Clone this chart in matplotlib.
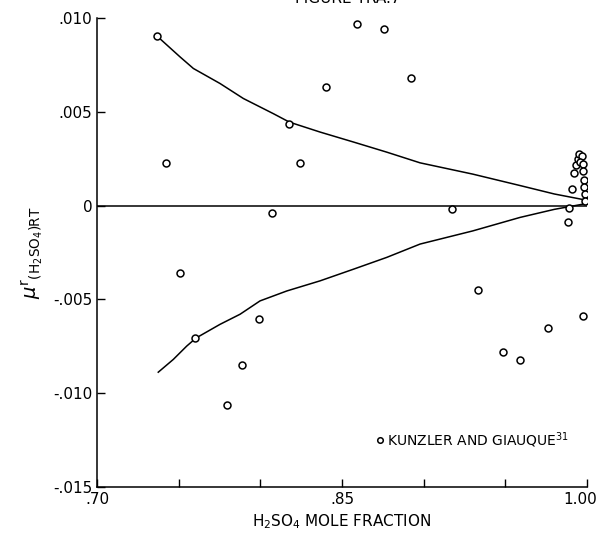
import matplotlib
matplotlib.use("Agg")
import matplotlib.pyplot as plt
from matplotlib.transforms import ScaledTranslation

# ================= DATA =================
# Kunzler and Giauque points (mole fraction, mu^r/RT)
pts_x = [0.7365, 0.7425, 0.7508, 0.7599, 0.7798, 0.7886, 0.7990, 0.8070,
         0.8178, 0.8240, 0.8402, 0.8592, 0.8757, 0.8920, 0.9174, 0.9333,
         0.9486, 0.9590, 0.9764, 0.9978, 0.9882, 0.9892, 0.9911, 0.9921,
         0.9933, 0.9947, 0.9953, 0.9968, 0.9958, 0.9974, 0.9978, 0.9982,
         0.9982, 0.9988, 0.9988]
pts_y = [0.00904, 0.00228, -0.00357, -0.00706, -0.01064, -0.00849, -0.00603,
         -0.00037, 0.00433, 0.00228, 0.00631, 0.00968, 0.00943, 0.00679,
         -0.00020, -0.00450, -0.00780, -0.00824, -0.00654, -0.00588,
         -0.00089, -0.00012, 0.00089, 0.00173, 0.00214, 0.00250, 0.00273,
         0.00267, 0.00232, 0.00223, 0.00187, 0.00134, 0.00098, 0.00062,
         0.00027]

# upper and lower envelope curves
upper_x = [0.7367, 0.7508, 0.7590, 0.7753, 0.7896, 0.8080, 0.8178, 0.8366,
           0.8570, 0.8774, 0.8978, 0.9300, 0.9590, 0.9800, 0.9990]
upper_y = [0.00904, 0.00793, 0.00731, 0.00651, 0.00571, 0.00490, 0.00445,
           0.00392, 0.00339, 0.00285, 0.00228, 0.00168, 0.00107, 0.00062,
           0.00030]
lower_x = [0.7375, 0.7467, 0.7549, 0.7606, 0.7753, 0.7876, 0.7998, 0.8162,
           0.8366, 0.8570, 0.8774, 0.8978, 0.9300, 0.9590, 0.9800, 0.9990]
lower_y = [-0.00888, -0.00820, -0.00749, -0.00706, -0.00633, -0.00579,
           -0.00508, -0.00455, -0.00401, -0.00339, -0.00276, -0.00205,
           -0.00135, -0.00063, -0.00020, 0.00010]

xticks = [0.70, 0.75, 0.80, 0.85, 0.90, 0.95, 1.00]
xticklabels = [".70", "", "", ".85", "", "", "1.00"]
yticks = [0.010, 0.005, 0.0, -0.005, -0.010, -0.015]
yticklabels = [".010", ".005", "0", "-.005", "-.010", "-.015"]

# ================= PLOT =================
fig = plt.figure(figsize=(6, 5.33), dpi=100)
ax = fig.add_axes([0.1617, 0.0863, 0.8166, 0.8799])

ax.plot([0.70, 1.00], [0, 0], color="black", lw=1.1)
ax.plot(upper_x, upper_y, color="black", lw=1.1)
ax.plot(lower_x, lower_y, color="black", lw=1.1)
ax.plot(pts_x, pts_y, linestyle="none", marker="o", markersize=5,
        markerfacecolor="white", markeredgecolor="black", markeredgewidth=1.1)

# legend entry
ax.plot([0.8733], [-0.01251], linestyle="none", marker="o", markersize=4,
        markerfacecolor="white", markeredgecolor="black", markeredgewidth=1.1)
ax.text(0.8775, -0.01251, r"KUNZLER AND GIAUQUE$^{31}$", fontsize=10,
        va="center", ha="left")

ax.set_xlim(0.70, 1.00)
ax.set_ylim(-0.015, 0.010)
ax.set_xticks(xticks)
ax.set_xticklabels(xticklabels, fontsize=11)
ax.set_yticks(yticks)
ax.set_yticklabels(yticklabels, fontsize=11)
ax.tick_params(direction="in", length=6, width=1)

# keep "1.00" inside the figure like the original
last = ax.get_xticklabels()[-1]
last.set_horizontalalignment("right")
last.set_transform(last.get_transform() + ScaledTranslation(0.10, 0, fig.dpi_scale_trans))

for s in ["top", "right"]:
    ax.spines[s].set_visible(False)
for s in ["left", "bottom"]:
    ax.spines[s].set_linewidth(1.1)

ax.set_xlabel(r"H$_2$SO$_4$ MOLE FRACTION", fontsize=11, labelpad=4)
ax.set_ylabel(r"$\mu^{\mathsf{r}}{}_{\mathsf{(H_2SO_4)RT}}$", fontsize=14,
              labelpad=6)

# clipped heading at the very top
fig.text(0.58, 1.003, "FIGURE TRA.7", fontsize=11, ha="center", va="center")

fig.savefig("out.png", dpi=100)
